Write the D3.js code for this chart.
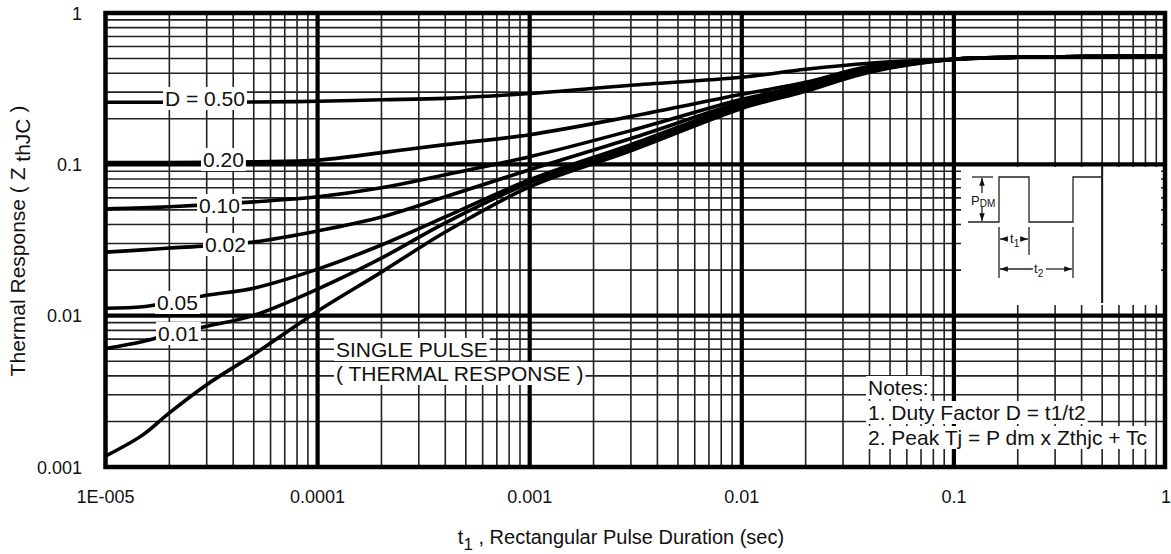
<!DOCTYPE html>
<html><head><meta charset="utf-8">
<script src="https://cdn.jsdelivr.net/npm/d3@7"></script>
<style>
html,body{margin:0;padding:0;background:#fff;}
svg{display:block;}
text{font-family:"Liberation Sans", Arial, Helvetica, sans-serif; fill:#111;}
</style></head><body>
<svg id="c" width="1171" height="554"></svg>
<script>
// ---------------- data ----------------
const pulseDurations = [1e-5,1.5e-5,2e-5,3e-5,5e-5,1e-4,2e-4,4e-4,1e-3,3e-3,1e-2,2e-2,4e-2,1e-1,2e-1,1];
const zD050   = [0.257,0.257,0.257,0.257,0.258,0.261,0.267,0.273,0.294,0.333,0.376,0.425,0.466,0.495,0.510,0.518];
const zD020   = [0.1026,0.1026,0.1028,0.103,0.104,0.1066,0.1195,0.135,0.157,0.207,0.290,0.348,0.445,0.495,0.510,0.518];
const zD010   = [0.0508,0.0516,0.0524,0.054,0.0565,0.061,0.070,0.0854,0.1124,0.167,0.269,0.333,0.432,0.495,0.510,0.518];
const zD002   = [0.0263,0.0272,0.028,0.0289,0.0307,0.0363,0.0449,0.061,0.0922,0.148,0.257,0.323,0.425,0.495,0.510,0.518];
const zD005   = [0.0112,0.01145,0.0122,0.01365,0.0152,0.0203,0.0293,0.0449,0.0791,0.135,0.249,0.318,0.418,0.495,0.510,0.518];
const zD001   = [0.00607,0.00676,0.00752,0.0085,0.01005,0.015,0.024,0.041,0.0755,0.129,0.241,0.313,0.412,0.495,0.510,0.518];
const zSingle = [0.00118,0.00163,0.00228,0.0035,0.00554,0.0107,0.0194,0.0357,0.0711,0.123,0.234,0.304,0.406,0.495,0.510,0.518];
const seriesList = [zD050, zD020, zD010, zD002, zD005, zD001, zSingle];

const xTickValues = [1e-5,1e-4,1e-3,1e-2,1e-1,1];
const xTickLabels = ["1E-005","0.0001","0.001","0.01","0.1","1"];
const yTickValues = [1,0.1,0.01,0.001];
const yTickLabels = ["1","0.1","0.01","0.001"];
const curveLabels = ["D = 0.50","0.20","0.10","0.02","0.05","0.01"];
const singlePulseLines = ["SINGLE PULSE","( THERMAL RESPONSE )"];
const noteLines = ["Notes:","1. Duty Factor D = t1/t2","2. Peak Tj = P dm x Zthjc + Tc"];

// ---------------- layout ----------------
const L = 105.5, R = 1165, T = 13, B = 467;
const svg = d3.select("#c");
svg.append("rect").attr("width",1171).attr("height",554).attr("fill","#fff");
const x = d3.scaleLog().domain([1e-5,1]).range([L,1166]);
const y = d3.scaleLog().domain([1,0.001]).range([T,B]);

// minor grid
const xMinor=[], yMinor=[];
for(let d=-5; d<0; d++) for(let k=2;k<=9;k++) xMinor.push(k*Math.pow(10,d));
for(let d=-3; d<0; d++) for(let k=2;k<=9;k++) yMinor.push(k*Math.pow(10,d));
const grid = svg.append("g");
grid.selectAll(".vx").data(xMinor).enter().append("line")
  .attr("x1",d=>x(d)).attr("x2",d=>x(d)).attr("y1",T).attr("y2",B)
  .attr("stroke","#222").attr("stroke-width",1.6);
grid.selectAll(".hy").data(yMinor).enter().append("line")
  .attr("y1",d=>y(d)).attr("y2",d=>y(d)).attr("x1",L).attr("x2",R)
  .attr("stroke","#222").attr("stroke-width",1.6);
// major grid
grid.selectAll(".mx").data(xTickValues.slice(1,-1)).enter().append("line")
  .attr("x1",d=>x(d)).attr("x2",d=>x(d)).attr("y1",T).attr("y2",B)
  .attr("stroke","#000").attr("stroke-width",4.2);
grid.selectAll(".my").data(yTickValues.slice(1,-1)).enter().append("line")
  .attr("y1",d=>y(d)).attr("y2",d=>y(d)).attr("x1",L).attr("x2",R)
  .attr("stroke","#000").attr("stroke-width",4.2);

// curves
const line = d3.line().x(d=>x(d[0])).y(d=>y(d[1])).curve(d3.curveCatmullRom.alpha(0.5));
svg.append("defs").append("clipPath").attr("id","clip").append("rect")
  .attr("x",L).attr("y",T).attr("width",R-L).attr("height",B-T);
const cg = svg.append("g").attr("clip-path","url(#clip)");
seriesList.forEach(s=>{
  cg.append("path").datum(pulseDurations.map((t,i)=>[t,s[i]]))
    .attr("d",line).attr("fill","none").attr("stroke","#000").attr("stroke-width",3.6)
    .attr("stroke-linejoin","round");
});

// labels with white backgrounds
function boxedText(txt, px, py, size, padX){
  const g = svg.append("g");
  const t = g.append("text").attr("x",px).attr("y",py).attr("font-size",size).text(txt);
  const bb = t.node().getBBox();
  g.insert("rect","text").attr("x",bb.x-padX).attr("y",bb.y).attr("width",bb.width+2*padX)
    .attr("height",bb.height).attr("fill","#fff");
  return g;
}
const curveLabelPos = [[165,106],[203,167],[199,213],[205,252],[157,310],[158,341]];
curveLabels.forEach((s,i)=>boxedText(s, curveLabelPos[i][0], curveLabelPos[i][1], 21, 2));
singlePulseLines.forEach((s,i)=>boxedText(s, 336, 357+i*24, 21, 2));
noteLines.forEach((s,i)=>boxedText(s, 868, 395+i*25, 21, 2));

// inset pulse diagram
const ins = svg.append("g");
ins.append("rect").attr("x",961).attr("y",167).attr("width",200).attr("height",138).attr("fill","#fff");
ins.append("line").attr("x1",x(0.5)).attr("x2",x(0.5)).attr("y1",166).attr("y2",303)
  .attr("stroke","#111").attr("stroke-width",2);
const defs = svg.select("defs");
defs.append("marker").attr("id","ah").attr("viewBox","0 0 10 10").attr("refX",10).attr("refY",5)
  .attr("markerWidth",6).attr("markerHeight",6).attr("orient","auto-start-reverse")
  .append("path").attr("d","M0,1.5L10,5L0,8.5Z").attr("fill","#111");
const st = {stroke:"#222","stroke-width":1.3,fill:"none"};
function pl(pts, marks){
  const p = ins.append("path").attr("d", d3.line()(pts));
  Object.entries(st).forEach(([k,v])=>p.attr(k,v));
  if(marks&&marks.s) p.attr("marker-start","url(#ah)");
  if(marks&&marks.e) p.attr("marker-end","url(#ah)");
}
pl([[968,222],[999,222],[999,177],[1029,177],[1029,222],[1073,222],[1073,177],[1103,177]]);
pl([[972,177],[993,177]]);
pl([[982,178],[982,193]],{s:true});
pl([[982,206],[982,221]],{e:true});
pl([[999,227],[999,278]]);
pl([[1029,227],[1029,255]]);
pl([[1073,227],[1073,278]]);
pl([[1008,239],[1000,239]],{e:true});
pl([[1021,239],[1028,239]],{e:true});
pl([[1033,269],[1000,269]],{e:true});
pl([[1046,269],[1072,269]],{e:true});
const pt = ins.append("text").attr("x",971).attr("y",205).attr("font-size",13);
pt.append("tspan").text("P");
pt.append("tspan").attr("font-size",10).attr("dy",2).text("DM");
const t1 = ins.append("text").attr("x",1010).attr("y",243).attr("font-size",13);
t1.append("tspan").text("t");
t1.append("tspan").attr("font-size",10).attr("dy",4).text("1");
const t2 = ins.append("text").attr("x",1034).attr("y",273).attr("font-size",13);
t2.append("tspan").text("t");
t2.append("tspan").attr("font-size",10).attr("dy",4).text("2");

// frame
svg.append("rect").attr("x",L).attr("y",T).attr("width",R-L).attr("height",B-T)
  .attr("fill","none").attr("stroke","#000").attr("stroke-width",4.5);

// tick labels
svg.selectAll(".xl").data(xTickValues).enter().append("text")
  .attr("x",d=>x(d)).attr("y",503).attr("text-anchor","middle").attr("font-size",18)
  .text((d,i)=>xTickLabels[i]);
svg.selectAll(".yl").data(yTickValues).enter().append("text")
  .attr("x",82).attr("y",d=>y(d)+6.5).attr("text-anchor","end").attr("font-size",18)
  .text((d,i)=>yTickLabels[i]);

// axis titles
const xt = svg.append("text").attr("x",621).attr("y",544).attr("text-anchor","middle").attr("font-size",20);
xt.append("tspan").text("t");
xt.append("tspan").attr("font-size",17).attr("dy",6).text("1");
xt.append("tspan").attr("dy",-6).text(" , Rectangular Pulse Duration (sec)");
const yt = svg.append("text").attr("transform","translate(25,241) rotate(-90)")
  .attr("text-anchor","middle").attr("font-size",21);
yt.append("tspan").text("Thermal Response ( Z  ");
yt.append("tspan").attr("dy",5).text("thJC");
yt.append("tspan").attr("dy",-5).text(" )");
</script>
</body></html>
